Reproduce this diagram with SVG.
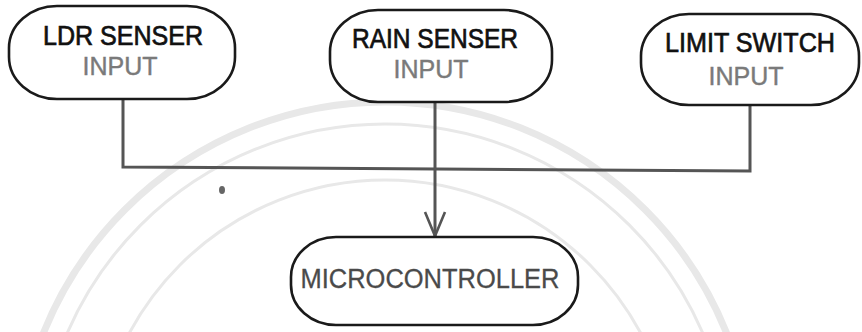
<svg xmlns="http://www.w3.org/2000/svg" width="862" height="332" viewBox="0 0 862 332">
  <style>
    .box { fill: #fff; stroke: #1a1a1a; stroke-width: 2.6; }
    .title { font-family: "Liberation Sans", Arial, sans-serif; font-size: 27px; fill: #111; stroke: #111; stroke-width: 0.7; text-anchor: middle; }
    .sub { font-family: "Liberation Sans", Arial, sans-serif; font-size: 25px; fill: #7a7a7a; stroke: #7a7a7a; stroke-width: 0.4; text-anchor: middle; }
    .main { font-family: "Liberation Sans", Arial, sans-serif; font-size: 27px; fill: #4a4a4a; stroke: #4a4a4a; stroke-width: 0.3; text-anchor: middle; }
    .wire { fill: none; stroke: #555; stroke-width: 3; stroke-linecap: square; }
    .seal { fill: none; stroke: #e8e8e8; }
  </style>
  <defs>
    <!-- open V arrowhead; +x points along the line -->
    <marker id="vhead" viewBox="0 0 28 24" refX="26" refY="12" markerWidth="28" markerHeight="24" markerUnits="userSpaceOnUse" orient="auto">
      <path d="M2 2 L26 12 L2 22" fill="none" stroke="#555" stroke-width="2.6"/>
    </marker>
  </defs>

  <rect width="862" height="332" fill="#fff"/>

  <!-- faint seal in the background -->
  <g id="seal">
    <circle class="seal" cx="385" cy="470" r="368" stroke-width="7"/>
    <circle class="seal" cx="385" cy="470" r="346" stroke-width="3"/>
    <circle class="seal" cx="385" cy="470" r="290" stroke-width="3"/>
  </g>

  <!-- connectors -->
  <g id="connectors">
    <polyline class="wire" points="123,99 123,167 750,171 750,105"/>
    <line class="wire" x1="435" y1="102" x2="435" y2="236" stroke-linecap="butt" marker-end="url(#vhead)"/>
  </g>

  <g id="ldr">
    <rect class="box" x="9" y="6" width="226" height="93" rx="48" ry="42"/>
    <text class="title" x="123" y="45" textLength="160" lengthAdjust="spacingAndGlyphs">LDR SENSER</text>
    <text class="sub" x="120" y="75">INPUT</text>
  </g>

  <g id="rain">
    <rect class="box" x="330" y="10" width="222" height="92" rx="48" ry="42"/>
    <text class="title" x="435" y="48" textLength="166" lengthAdjust="spacingAndGlyphs">RAIN SENSER</text>
    <text class="sub" x="431" y="78">INPUT</text>
  </g>

  <g id="limit">
    <rect class="box" x="641" y="14" width="218" height="91" rx="48" ry="42"/>
    <text class="title" x="750" y="52" textLength="170" lengthAdjust="spacingAndGlyphs">LIMIT SWITCH</text>
    <text class="sub" x="746" y="85">INPUT</text>
  </g>

  <g id="microcontroller">
    <rect class="box" x="291" y="237" width="287" height="88" rx="45" ry="40"/>
    <text class="main" x="430" y="288" textLength="259" lengthAdjust="spacingAndGlyphs">MICROCONTROLLER</text>
  </g>

  <ellipse cx="222" cy="190" rx="3" ry="4" fill="#666"/>
</svg>
